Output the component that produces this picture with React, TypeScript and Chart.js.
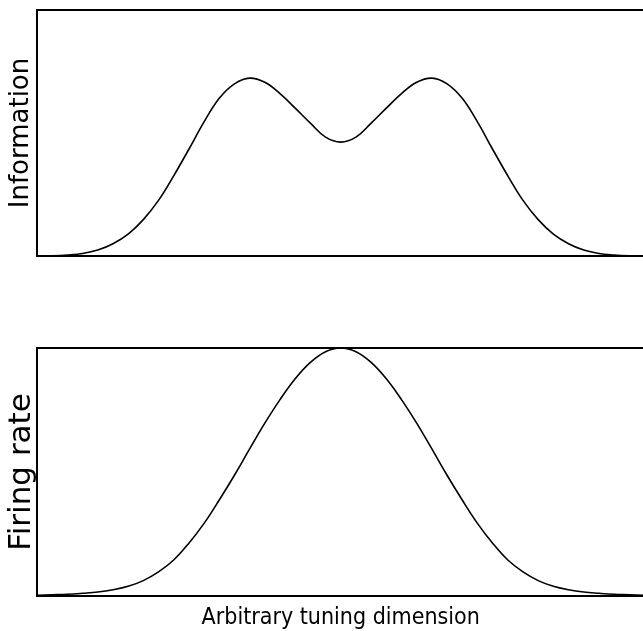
import React, { useEffect, useRef } from "react";
import { Chart, registerables } from "chart.js";

Chart.register(...registerables);

// Arbitrary tuning dimension (0..100), sampled every 2.5 units
const tuningDimension = [
  0, 2.5, 5, 7.5, 10, 12.5, 15, 17.5, 20, 22.5, 25, 27.5, 30, 32.5, 35, 37.5, 40, 42.5, 45, 47.5,
  50, 52.5, 55, 57.5, 60, 62.5, 65, 67.5, 70, 72.5, 75, 77.5, 80, 82.5, 85, 87.5, 90, 92.5, 95, 97.5, 100,
];

// Top panel: information (relative units)
const information = [
  0.0, 0.001, 0.004, 0.01, 0.024, 0.05, 0.089, 0.148, 0.226, 0.326, 0.434, 0.545, 0.641, 0.7, 0.723,
  0.706, 0.66, 0.601, 0.54, 0.483, 0.463, 0.483, 0.54, 0.601, 0.66, 0.706, 0.723, 0.7, 0.641, 0.545,
  0.434, 0.326, 0.226, 0.148, 0.089, 0.05, 0.024, 0.01, 0.004, 0.001, 0.0,
];

// Bottom panel: firing rate (relative units)
const firingRate = [
  0.003, 0.005, 0.007, 0.011, 0.016, 0.025, 0.039, 0.062, 0.097, 0.145, 0.213, 0.293, 0.387, 0.487, 0.593,
  0.697, 0.792, 0.876, 0.942, 0.985, 1.0, 0.985, 0.942, 0.876, 0.792, 0.697, 0.593, 0.487, 0.387, 0.293,
  0.213, 0.145, 0.097, 0.062, 0.039, 0.025, 0.016, 0.011, 0.007, 0.005, 0.003,
];

const informationLabel = "Information";
const firingRateLabel = "Firing rate";
const dimensionLabel = "Arbitrary tuning dimension";

const BLACK = "#000000";

function toPoints(xs: number[], ys: number[]) {
  return xs.map((x, i) => ({ x, y: ys[i] }));
}

function frameAxis(axis: "x" | "y", position: string, min: number, max: number) {
  return {
    type: "linear" as const,
    axis,
    position,
    min,
    max,
    grid: { display: false, drawTicks: false, tickLength: 0 },
    ticks: { display: false },
    border: { display: true, color: BLACK, width: 2 },
  };
}

function buildConfig(
  values: number[],
  yTitle: string,
  yFontSize: number,
  yPadding: { top: number; bottom: number },
  layoutPadding: { left: number; right: number; top: number; bottom: number },
  xTitle: string | null
): any {
  const xAxis: any = frameAxis("x", "bottom", 0, 100);
  if (xTitle) {
    xAxis.title = {
      display: true,
      text: xTitle,
      color: BLACK,
      font: { family: "'DejaVu Sans Condensed', 'Liberation Sans'", size: 23, lineHeight: 1 },
      padding: { top: 10.5, bottom: 1.5 },
    };
  }
  const yAxis: any = frameAxis("y", "left", 0, 1);
  yAxis.title = {
    display: true,
    text: yTitle,
    color: BLACK,
    font: { family: "'DejaVu Sans'", size: yFontSize, lineHeight: 1 },
    padding: yPadding,
  };
  return {
    type: "line",
    data: {
      datasets: [
        {
          data: toPoints(tuningDimension, values),
          borderColor: BLACK,
          borderWidth: 1.6,
          pointRadius: 0,
          pointHoverRadius: 0,
          fill: false,
          tension: 0.4,
        },
      ],
    },
    options: {
      responsive: false,
      animation: false,
      devicePixelRatio: 1,
      layout: { autoPadding: false, padding: layoutPadding },
      plugins: { legend: { display: false }, tooltip: { enabled: false }, title: { display: false } },
      scales: {
        x: xAxis,
        x2: frameAxis("x", "top", 0, 100),
        y: yAxis,
        y2: frameAxis("y", "right", 0, 1),
      },
    },
  };
}

function Panel(props: { config: any; width: number; height: number; top: number }) {
  const ref = useRef<HTMLCanvasElement | null>(null);
  useEffect(() => {
    if (!ref.current) return;
    const chart = new Chart(ref.current, props.config);
    return () => chart.destroy();
  }, []);
  return (
    <canvas
      ref={ref}
      width={props.width}
      height={props.height}
      style={{ position: "absolute", left: 0, top: props.top, width: props.width, height: props.height }}
    />
  );
}

export default function App() {
  const topConfig = buildConfig(
    information,
    informationLabel,
    26,
    { top: 8, bottom: 3 },
    { left: 0, right: 1.5, top: 10, bottom: 14 },
    null
  );
  const bottomConfig = buildConfig(
    firingRate,
    firingRateLabel,
    31,
    { top: 6, bottom: 0 },
    { left: 0, right: 1.5, top: 58, bottom: 0 },
    dimensionLabel
  );
  return (
    <div
      style={{
        position: "absolute",
        left: 0,
        top: 0,
        width: 643,
        height: 631,
        overflow: "hidden",
        background: "#ffffff",
      }}
    >
      <Panel config={topConfig} width={646} height={270} top={0} />
      <Panel config={bottomConfig} width={646} height={341} top={290} />
    </div>
  );
}
